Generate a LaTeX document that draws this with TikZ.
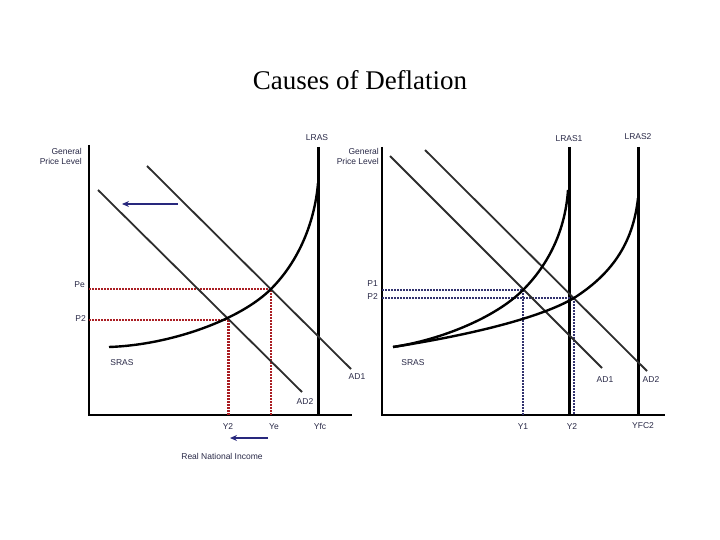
\documentclass[tikz,border=0pt]{standalone}
\usepackage{fontspec}
\setmainfont{Liberation Serif}
\newfontfamily\labelfont{Liberation Sans}
\usetikzlibrary{arrows.meta}
\definecolor{LabelInk}{RGB}{40, 40, 70}
\definecolor{CurveGrey}{RGB}{45, 45, 45}
\definecolor{GuideRed}{RGB}{170, 30, 35}
\definecolor{GuideBlue}{RGB}{50, 50, 110}
\definecolor{ShiftNavy}{RGB}{40, 40, 125}

\begin{document}
\begin{tikzpicture}[x=1pt, y=-1pt,
    axis/.style={line width=2.6pt, black},
    lras/.style={line width=3pt, black},
    adline/.style={line width=1.8pt, CurveGrey},
    sras/.style={line width=2.4pt, black},
    redguide/.style={GuideRed, line width=2pt, dash pattern=on 1.5pt off 1.5pt},
    blueguide/.style={GuideBlue, line width=2pt, dash pattern=on 2pt off 1pt},
    shiftarrow/.style={ShiftNavy, line width=2.4pt, -{Stealth[length=7pt, width=6pt]}},
    lbl/.style={font=\labelfont\fontsize{8.5}{10}\selectfont, text=LabelInk, inner sep=0pt}]
    \useasboundingbox (0,0) rectangle (720,540);

    % Title
    \node (title) at (360,80) {\fontsize{27}{30}\selectfont Causes of Deflation};

    % Left chart: axes
    \coordinate (lo) at (89,415);
    \draw[axis] (89,145) -- (lo) -- (352,415);
    \draw[lras] (318,147) -- (318,415);

    % Left chart: points
    \coordinate (pe) at (271,289);
    \coordinate (ptwo) at (228,320);

    % Left chart: guides
    \draw[redguide] (89,289) -- (pe) -- (271,415);
    \draw[redguide] (89,320) -- (ptwo);
    \draw[redguide, line width=3pt] (ptwo) -- (228,415);

    % Left chart: curves
    \draw[adline] (147,166) -- (351,369);
    \draw[adline] (98,190) -- (302,392);
    \draw[sras] (109,347) .. controls (170,345) and (240,320) .. (pe)
                .. controls (300,260) and (315,220) .. (318,183);

    % Left chart: shifts
    \draw[shiftarrow] (178,204) -- (122,204);
    \draw[shiftarrow] (268,438) -- (230,438);

    % Left chart: labels
    \node[lbl, anchor=east, align=right] (gpl) at (82,156) {General\\Price Level};
    \node[lbl] (lras) at (317,138) {LRAS};
    \node[lbl, anchor=east] (pelbl) at (85,285) {Pe};
    \node[lbl, anchor=east] (ptwolbl) at (86,319) {P2};
    \node[lbl] (sraslbl) at (122,363) {SRAS};
    \node[lbl] (adone) at (357,377) {AD1};
    \node[lbl] (adtwo) at (305,402) {AD2};
    \node[lbl] (ytwo) at (228,427) {Y2};
    \node[lbl] (ye) at (274,427) {Ye};
    \node[lbl] (yfc) at (320,426) {Yfc};
    \node[lbl] (rni) at (222,456) {Real National Income};

    % Right chart: axes
    \coordinate (ro) at (382,415);
    \draw[axis] (382,147) -- (ro) -- (665,415);
    \draw[lras] (569,147) -- (569,415);
    \draw[lras] (638,147) -- (638,415);

    % Right chart: points
    \coordinate (pone) at (523,290);
    \coordinate (pnew) at (574,298);

    % Right chart: guides
    \draw[blueguide] (382,290) -- (pone) -- (523,415);
    \draw[blueguide] (382,298) -- (pnew) -- (574,415);

    % Right chart: curves
    \draw[adline] (390,156) -- (602,368);
    \draw[adline] (425,150) -- (647,371);
    \draw[sras] (393,347) .. controls (440,340) and (495,318) .. (pone)
                .. controls (545,268) and (565,235) .. (568,190);
    \draw[sras] (393,347) .. controls (470,335) and (540,318) .. (pnew)
                .. controls (610,275) and (633,245) .. (638,198);

    % Right chart: labels
    \node[lbl, anchor=east, align=right] (gplr) at (379,156) {General\\Price Level};
    \node[lbl] (lrasone) at (569,139) {LRAS1};
    \node[lbl] (lrastwo) at (638,137) {LRAS2};
    \node[lbl, anchor=east] (ponelbl) at (378,284) {P1};
    \node[lbl, anchor=east] (pnewlbl) at (378,297) {P2};
    \node[lbl] (srasrlbl) at (413,363) {SRAS};
    \node[lbl] (adonelbl) at (605,380) {AD1};
    \node[lbl] (adtwolbl) at (651,380) {AD2};
    \node[lbl] (yone) at (523,427) {Y1};
    \node[lbl] (ytwor) at (572,427) {Y2};
    \node[lbl] (yfctwo) at (643,426) {YFC2};
  \end{tikzpicture}
\end{document}
